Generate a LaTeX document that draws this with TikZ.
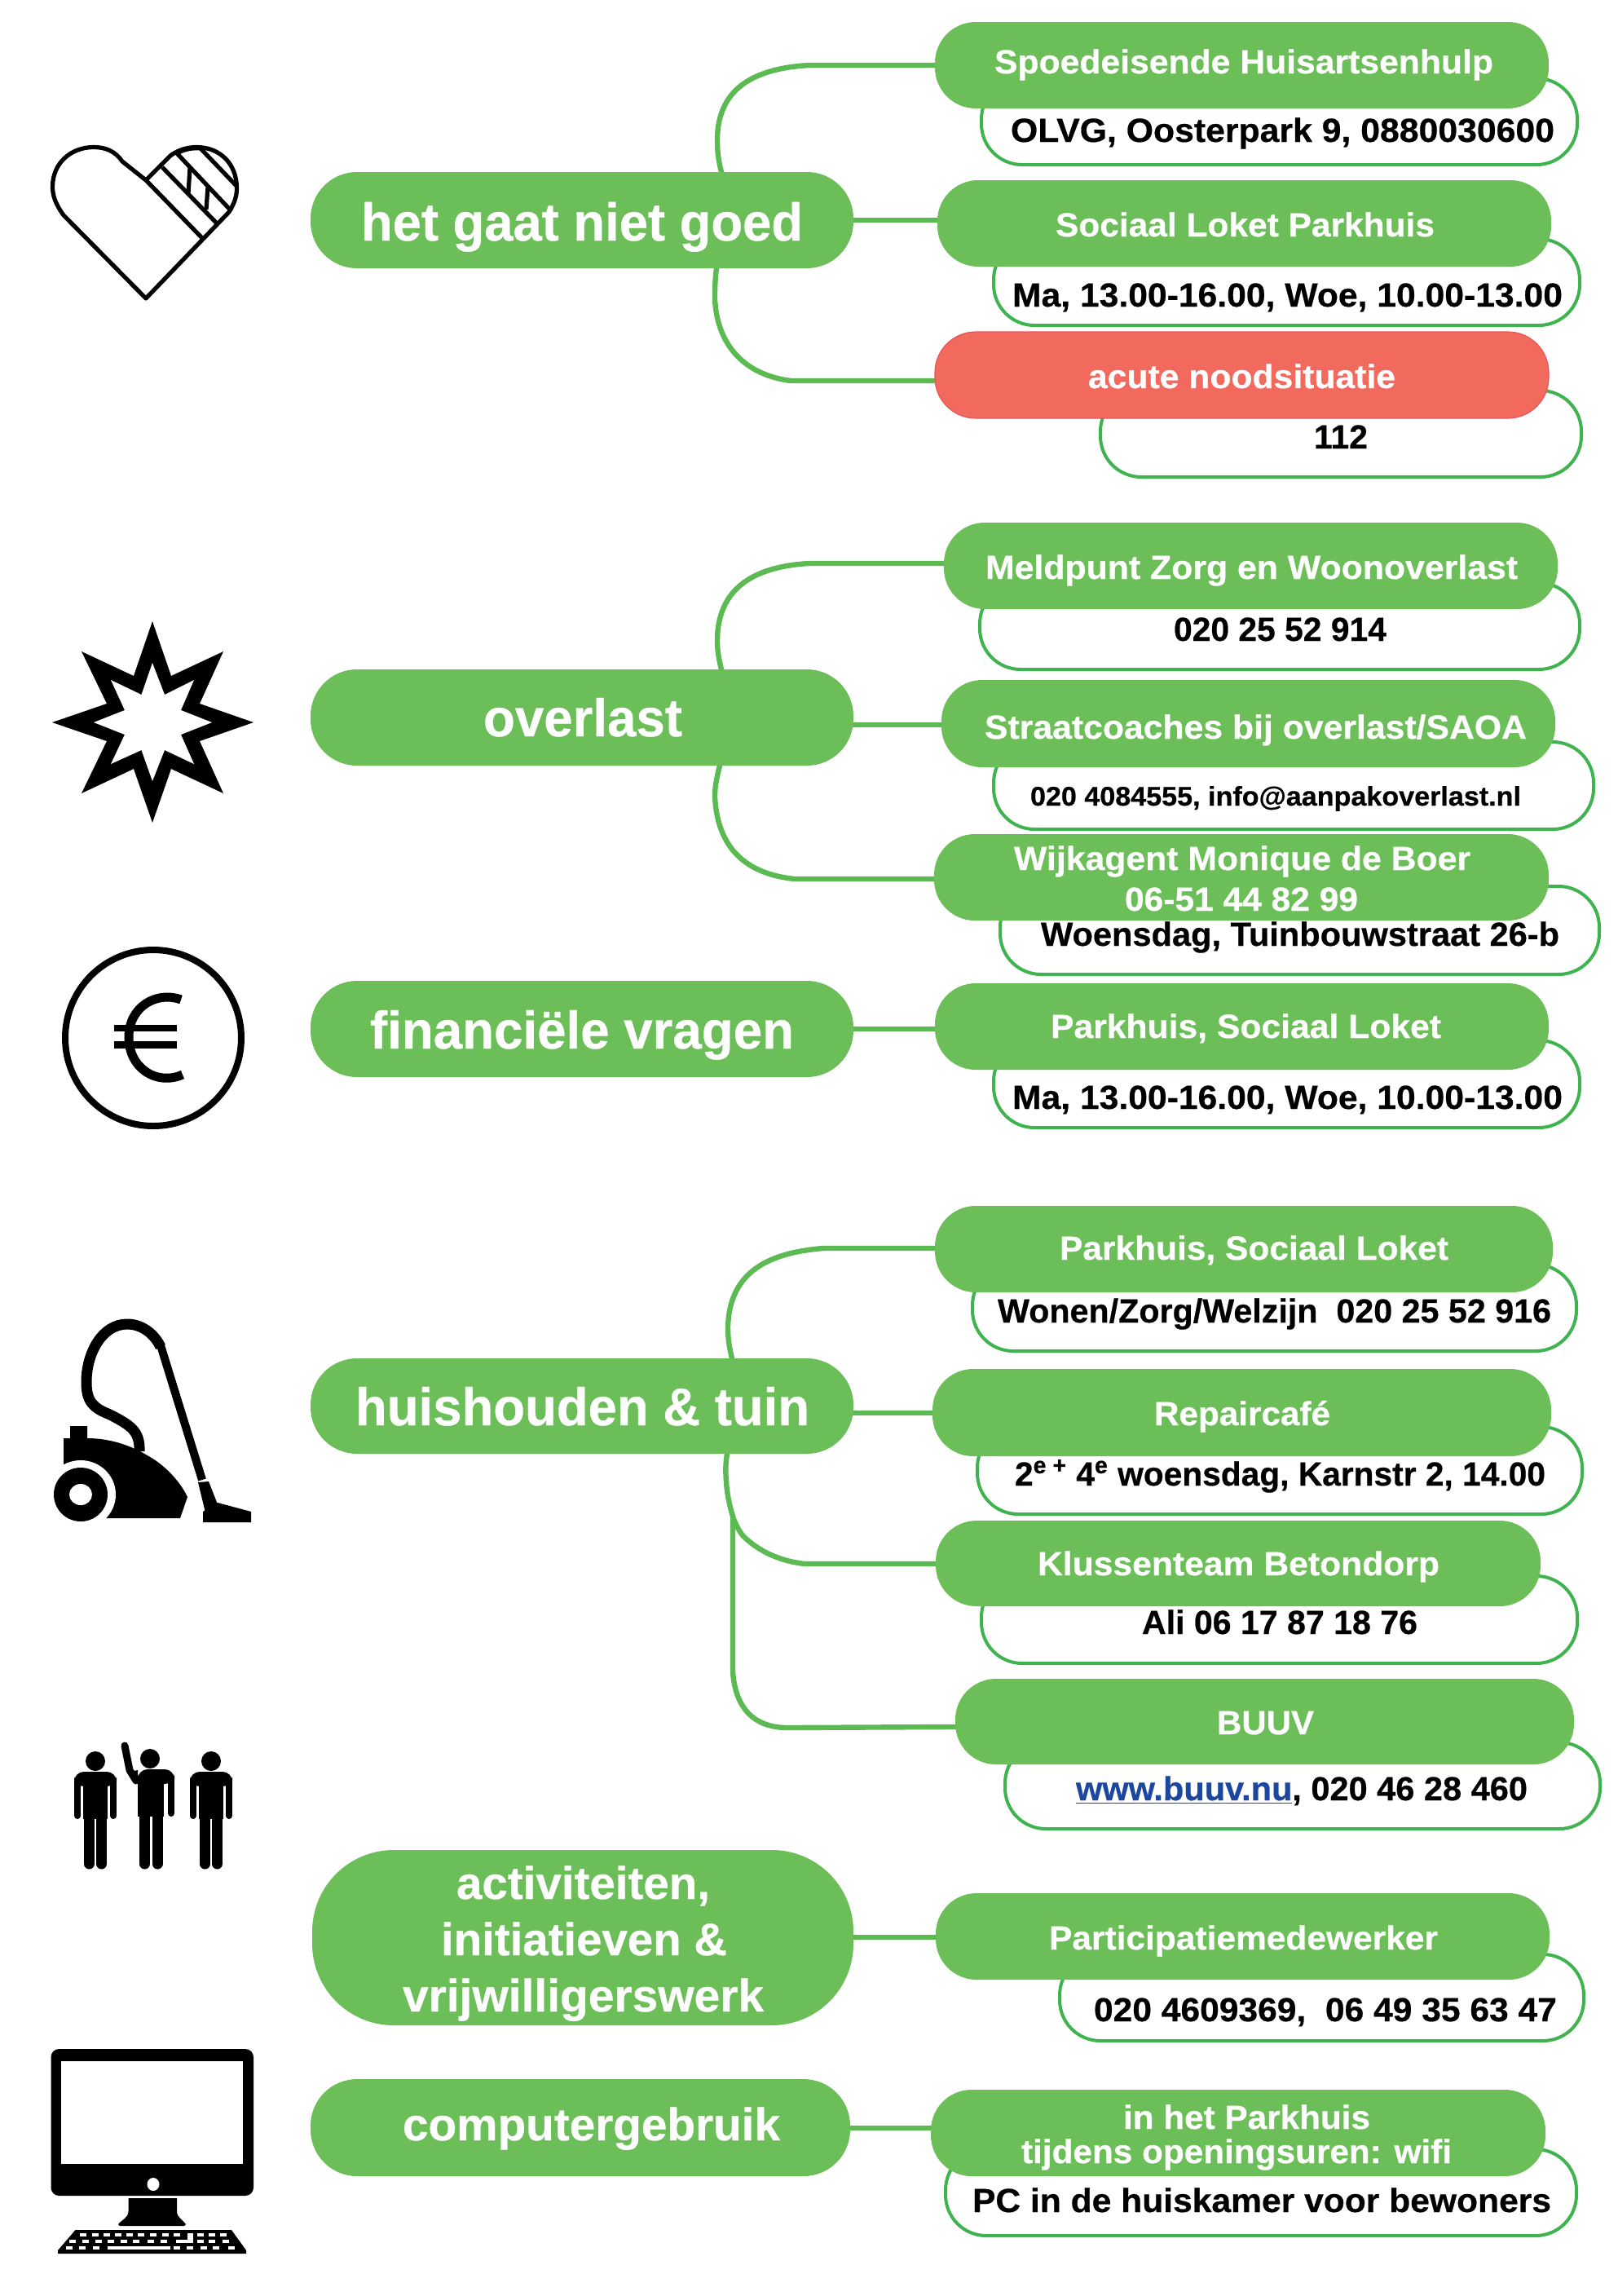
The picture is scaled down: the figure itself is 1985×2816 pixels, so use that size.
\documentclass[tikz,border=0pt]{standalone}
\usepackage{fontspec}
\usepackage{graphicx}
\setmainfont{Liberation Sans}[BoldFeatures={FakeBold=0.5}]
\definecolor{pillgreen}{HTML}{6CBE58}
\definecolor{linegreen}{HTML}{5CBA52}
\definecolor{subgreen}{HTML}{3FB34F}
\definecolor{alarmred}{HTML}{F2695D}
\definecolor{alarmedge}{HTML}{E8555A}
\definecolor{linkblue}{HTML}{1C47A0}
\pgfdeclarelayer{bg}
\pgfsetlayers{bg,main}
% box given by pixel corners; text placed by pixel extent and baseline
\newcommand\bx[7]{%
  \pgfmathsetmacro\ncx{(#3+#5)/2}%
  \pgfmathsetmacro\ncy{(#4+#6)/2}%
  \pgfmathsetmacro\myNW{(#5-#3)/2}%
  \pgfmathsetmacro\myNH{(#6-#4)/2}%
  \node[#1,minimum width=\myNW pt,minimum height=\myNH pt] (#2) at (\ncx,\ncy) {#7};}
\newcommand\tl[4]{%
  \pgfmathsetlengthmacro\myDX{((#1+#2)/2-\ncx)*0.5}%
  \pgfmathsetlengthmacro\myDY{(\ncy-#3)*0.5}%
  \pgfmathsetlengthmacro\myW{(#2-#1)*0.5}%
  \makebox[0pt][c]{\kern\myDX\kern\myDX\raisebox{\myDY}[0pt][0pt]{\resizebox{\myW}{\height}{#4}}}\ignorespaces}
\newcommand\person[2]{%
  \begin{scope}[shift={(#1,#2)}]
    \fill (0,-13) circle [radius=12];
    \fill[rounded corners=6pt] (-26,0) -- (26,0) -- (26,18) -- (-26,18) -- cycle;
    \draw[line width=4pt,line cap=round] (-22,10) -- (-22,54);
    \draw[line width=4pt,line cap=round] (22,10) -- (22,54);
    \fill (-15,8) rectangle (15,58);
    \draw[line width=6.5pt,line cap=round] (-7.5,55) -- (-7.5,113);
    \draw[line width=6.5pt,line cap=round] (7.5,55) -- (7.5,113);
  \end{scope}}
\tikzset{
  x=0.5pt,y=-0.5pt,
  basebox/.style={rectangle,inner sep=0pt,outer sep=0pt},
  pillnode/.style={basebox,fill=pillgreen,rounded corners=25pt,text=white,font=\bfseries\fontsize{20.5}{24}\selectfont},
  rednode/.style={pillnode,fill=alarmred,draw=alarmedge,line width=0.6pt},
  mainnode/.style={basebox,fill=pillgreen,rounded corners=28.5pt,text=white,font=\bfseries\fontsize{32.5}{38}\selectfont},
  subnode/.style={basebox,fill=white,draw=subgreen,line width=2pt,rounded corners=25pt,text=black,font=\bfseries\fontsize{20.5}{24}\selectfont},
  conn/.style={draw=linegreen,line width=3.2pt},
  iconline/.style={draw=black,line width=2.6pt,line join=round},
}
\begin{document}
\begin{tikzpicture}
\useasboundingbox (0,0) rectangle (1985,2816);

% ---- detail boxes (under the coloured pills)
\bx{subnode}{s1}{1204}{96}{1935}{202}{\tl{1240}{1907}{174}{OLVG, Oosterpark 9, 0880030600}}
\bx{subnode}{s2}{1219}{293}{1938}{399}{\tl{1242}{1917}{376}{Ma, 13.00-16.00, Woe, 10.00-13.00}}
\bx{subnode}{s3}{1350}{479}{1940}{585}{\tl{1612}{1678}{550}{112}}
\bx{subnode}{s4}{1202}{715}{1938}{821}{\tl{1440}{1701}{786}{020 25 52 914}}
\bx{subnode,font=\bfseries\fontsize{16.5}{20}\selectfont}{s5}{1219}{910}{1955}{1017}{\tl{1264}{1866}{988}{020 4084555, info@aanpakoverlast.nl}}
\bx{subnode}{s6}{1227}{1087}{1962}{1195}{\tl{1277}{1913}{1160}{Woensdag, Tuinbouwstraat 26-b}}
\bx{subnode}{s7}{1219}{1276}{1938}{1383}{\tl{1242}{1917}{1360}{Ma, 13.00-16.00, Woe, 10.00-13.00}}
\bx{subnode}{s8}{1193}{1551}{1934}{1657}{\tl{1224}{1903}{1622}{Wonen/Zorg/Welzijn\ \ 020 25 52 916}}
\bx{subnode}{s9}{1199}{1750}{1941}{1857}{\tl{1245}{1896}{1822}{2\textsuperscript{e\ +}\ 4\textsuperscript{e} woensdag, Karnstr 2, 14.00}}
\bx{subnode}{s10}{1204}{1933}{1935}{2040}{\tl{1401}{1739}{2004}{Ali 06 17 87 18 76}}
\bx{subnode}{s11}{1233}{2137}{1963}{2243}{\tl{1320}{1874}{2208}{\textcolor{linkblue}{\underline{www.buuv.nu}}, 020 46 28 460}}
\bx{subnode}{s12}{1300}{2397}{1943}{2503}{\tl{1342}{1910}{2479}{020 4609369,\ \ 06 49 35 63 47}}
\bx{subnode}{s13}{1160}{2636}{1934}{2742}{\tl{1193}{1903}{2713}{PC in de huiskamer voor bewoners}}

% ---- service pills
\bx{pillnode}{p1}{1147}{27}{1900}{133}{\tl{1220}{1832}{90}{Spoedeisende Huisartsenhulp}}
\bx{pillnode}{p2}{1150}{221}{1903}{327}{\tl{1295}{1760}{290}{Sociaal Loket Parkhuis}}
\bx{rednode}{p3}{1147}{407}{1900}{513}{\tl{1335}{1712}{476}{acute noodsituatie}}
\bx{pillnode}{p4}{1158}{641}{1911}{747}{\tl{1209}{1862}{710}{Meldpunt Zorg en Woonoverlast}}
\bx{pillnode}{p5}{1155}{834}{1908}{941}{\tl{1208}{1873}{906}{Straatcoaches bij overlast/SAOA}}
\bx{pillnode}{p6}{1146}{1023}{1900}{1129}{\tl{1244}{1804}{1067}{Wijkagent Monique de Boer}\tl{1380}{1666}{1117}{06-51 44 82 99}}
\bx{pillnode}{p7}{1147}{1206}{1900}{1312}{\tl{1289}{1768}{1273}{Parkhuis, Sociaal Loket}}
\bx{pillnode}{p8}{1147}{1479}{1905}{1585}{\tl{1300}{1777}{1545}{Parkhuis, Sociaal Loket}}
\bx{pillnode}{p9}{1144}{1679}{1903}{1786}{\tl{1416}{1632}{1748}{Repaircafé}}
\bx{pillnode}{p10}{1148}{1865}{1890}{1970}{\tl{1273}{1766}{1932}{Klussenteam Betondorp}}
\bx{pillnode}{p11}{1172}{2059}{1931}{2164}{\tl{1493}{1612}{2127}{BUUV}}
\bx{pillnode}{p12}{1148}{2322}{1901}{2428}{\tl{1287}{1764}{2391}{Participatiemedewerker}}
\bx{pillnode}{p13}{1142}{2563}{1896}{2669}{\tl{1378}{1681}{2611}{in het Parkhuis}\tl{1253}{1781}{2653}{tijdens openingsuren: wifi}}

% ---- category pills
\bx{mainnode}{m1}{381}{211}{1047}{329}{\tl{443}{985}{295}{het gaat niet goed}}
\bx{mainnode}{m2}{381}{821}{1047}{939}{\tl{593}{837}{903}{overlast}}
\bx{mainnode}{m3}{381}{1203}{1047}{1321}{\tl{454}{974}{1286}{financiële vragen}}
\bx{mainnode}{m4}{381}{1666}{1047}{1783}{\tl{436}{993}{1748}{huishouden \& tuin}}
\bx{mainnode,rounded corners=50pt,font=\bfseries\fontsize{28}{32}\selectfont}{m5}{383}{2269}{1047}{2484}{\tl{560}{871}{2329}{activiteiten,}\tl{541}{892}{2398}{initiatieven \&}\tl{494}{937}{2467}{vrijwilligerswerk}}
\bx{mainnode,font=\bfseries\fontsize{28}{32}\selectfont}{m6}{381}{2550}{1043}{2669}{\tl{494}{957}{2625}{computergebruik}}

% ---- connectors
\begin{pgfonlayer}{bg}
\draw[conn] (885,0 |- m1.center) -- (885,211) .. controls (881,195) and (880,185) .. (880,172) .. controls (880,112) and (920,84) .. (993,80) -- (p1.center |- 0,80);
\draw[conn] (m1.center |- 0,270) -- (p2.center |- 0,270);
\draw[conn] (879,0 |- m1.center) -- (879,329) .. controls (877,345) and (877,355) .. (877,367) .. controls (880,425) and (915,460) .. (970,467) -- (p3.center |- 0,467);

\draw[conn] (885,0 |- m2.center) -- (885,821) .. controls (881,805) and (880,795) .. (880,786) .. controls (880,725) and (920,695) .. (993,691) -- (p4.center |- 0,691);
\draw[conn] (m2.center |- 0,889) -- (p5.center |- 0,889);
\draw[conn] (883,0 |- m2.center) -- (883,939) .. controls (879,955) and (877,965) .. (877,977) .. controls (880,1040) and (915,1072) .. (975,1078) -- (p6.center |- 0,1078);

\draw[conn] (m3.center |- 0,1262) -- (p7.center |- 0,1262);

\draw[conn] (898,0 |- m4.center) -- (898,1666) .. controls (894,1650) and (893,1640) .. (893,1627) .. controls (895,1565) and (935,1537) .. (1010,1531) -- (p8.center |- 0,1531);
\draw[conn] (m4.center |- 0,1733) -- (p9.center |- 0,1733);
\draw[conn] (892,0 |- m4.center) -- (892,1783) .. controls (890,1795) and (890,1805) .. (891,1817) .. controls (892,1835) and (896,1850) .. (900,1863) .. controls (905,1875) and (910,1883) .. (915,1887) .. controls (935,1905) and (960,1915) .. (987,1918) -- (p10.center |- 0,1918);
\draw[conn] (899,1858) -- (899,2050) .. controls (902,2095) and (925,2120) .. (969,2119) -- (p11.center |- 0,2116);

\draw[conn] (m5.center |- 0,2376) -- (p12.center |- 0,2376);
\draw[conn] (m6.center |- 0,2610) -- (p13.center |- 0,2610);
\end{pgfonlayer}

% ---- heart icon
\draw[iconline] (179,366) -- (78,264) .. controls (68,250) and (64.5,240) .. (64.5,229) .. controls (64.5,200) and (87,180.5) .. (115,180.5) .. controls (130,180.5) and (142,186) .. (150,198) -- (179,221) -- (209,191) .. controls (218,184) and (230,180.5) .. (241,180.5) .. controls (270,180.5) and (290.5,201) .. (290.5,231) .. controls (290.5,242) and (287,250) .. (281,260) -- cycle;
\draw[iconline] (179,221) -- (249,293);
\draw[iconline] (199,205) -- (267,275);
\draw[iconline] (217,188) -- (284,259);
\draw[iconline] (246,182) -- (291,229);
\draw[iconline] (217,188) .. controls (226,183) and (236,181) .. (246,182);
\draw[iconline] (233,206) -- (231,237);
\draw[iconline] (255,229) -- (253,257);

% ---- star icon
\fill[black] (187,762) -- (210,829) -- (274,799) -- (245,863) -- (311,886) -- (245,909) -- (274,973) -- (210,943) -- (187,1009) -- (164,943) -- (100,973) -- (131,909) -- (64,886) -- (131,863) -- (100,799) -- (164,829) -- cycle;
\fill[white] (187,813) -- (202,852) -- (238,834) -- (222,871) -- (260,886) -- (222,901) -- (238,937) -- (202,920) -- (187,958) -- (173.5,920) -- (136,937) -- (153,901) -- (115,886) -- (153,871) -- (136,834) -- (173.5,852) -- cycle;

% ---- euro icon
\draw[line width=4pt] (188,1273) circle [radius=108];
\draw[line width=5.5pt] (222,1226) .. controls (192,1215) and (158,1235) .. (158,1272) .. controls (158,1310) and (192,1332) .. (224,1318);
\fill (140,1257) rectangle (217,1265);
\fill (140,1277) rectangle (217,1286);

% ---- vacuum cleaner icon
\fill (78,1764) -- (86,1764) -- (86,1749) -- (107,1749) -- (107,1764) .. controls (130,1764) and (155,1770) .. (179,1784) .. controls (200,1795) and (220,1815) .. (230,1836) -- (221,1862) -- (78,1862) -- cycle;
\fill[white] (99,1833) ellipse [x radius=43,y radius=42];
\fill (99,1833) ellipse [x radius=33,y radius=33];
\fill[white] (99,1833) ellipse [x radius=14,y radius=13];
\draw[line width=6.5pt] (171,1780) .. controls (172,1755) and (160,1748) .. (135,1735) .. controls (115,1727) and (106,1720) .. (106,1695) .. controls (106,1660) and (125,1624) .. (156,1624) .. controls (175,1624) and (190,1637) .. (197,1652);
\draw[line width=5pt] (197,1650) -- (248,1815);
\fill (243,1818) -- (256,1817) -- (267,1845) -- (252,1855) -- cycle;
\fill (249,1854) -- (267,1843) -- (308,1854) -- (308,1867) -- (249,1867) -- cycle;

% ---- people icon
\person{117}{2173}
\person{259}{2173}
\begin{scope}[shift={(184,2170)}]
  \fill (0,-13) circle [radius=12];
  \fill[rounded corners=6pt] (-15,0) -- (30,0) -- (30,18) -- (-15,18) -- cycle;
  \draw[line width=4pt,line cap=round] (26,10) -- (26,54);
  \fill (-15,8) rectangle (17,58);
  \draw[line width=6.5pt,line cap=round] (-6.5,55) -- (-6.5,116);
  \draw[line width=6.5pt,line cap=round] (9,55) -- (9,116);
  \draw[line width=4.5pt,line cap=round,line join=round] (-31,-29) -- (-25,1) -- (-17,14);
  \fill (-25,3) -- (-15,1) -- (-15,16) -- cycle;
\end{scope}

% ---- computer icon
\fill[rounded corners=5pt] (62.5,2513) rectangle (311,2693);
\fill[white] (75,2528) rectangle (298,2654);
\fill[white] (188,2679) ellipse [x radius=7.5,y radius=8];
\fill (157.5,2696) -- (217,2696) -- (217,2712) .. controls (217,2720) and (224,2722) .. (228,2728) -- (226,2730) -- (147,2730) -- (145,2728) .. controls (150,2722) and (157.5,2720) .. (157.5,2712) -- cycle;
\fill (92.5,2735) -- (284,2735) -- (302,2760) -- (302,2764) -- (71,2764) -- (71,2760) -- cycle;
\foreach \k in {160,183,205,228,250,272,295,318,340,385,408,430} {
  \fill[white] ({\k/1.568-4},2739) rectangle ({\k/1.568+4},2742.5);}
\foreach \k in {140,165,190,213,238,262,290,315,385,408,435} {
  \fill[white] ({\k/1.568-4},2747) rectangle ({\k/1.568+4},2750.5);}
\foreach \k in {133,158,185,340,365,392,415,445} {
  \fill[white] ({\k/1.568-4},2755) rectangle ({\k/1.568+4},2758.5);}
\fill[white] (132,2755) rectangle (209,2758.5);
\fill[white] (216,2747) rectangle (237,2750.5);
\fill[white] (230,2739) rectangle (237,2750.5);
\end{tikzpicture}
\end{document}
